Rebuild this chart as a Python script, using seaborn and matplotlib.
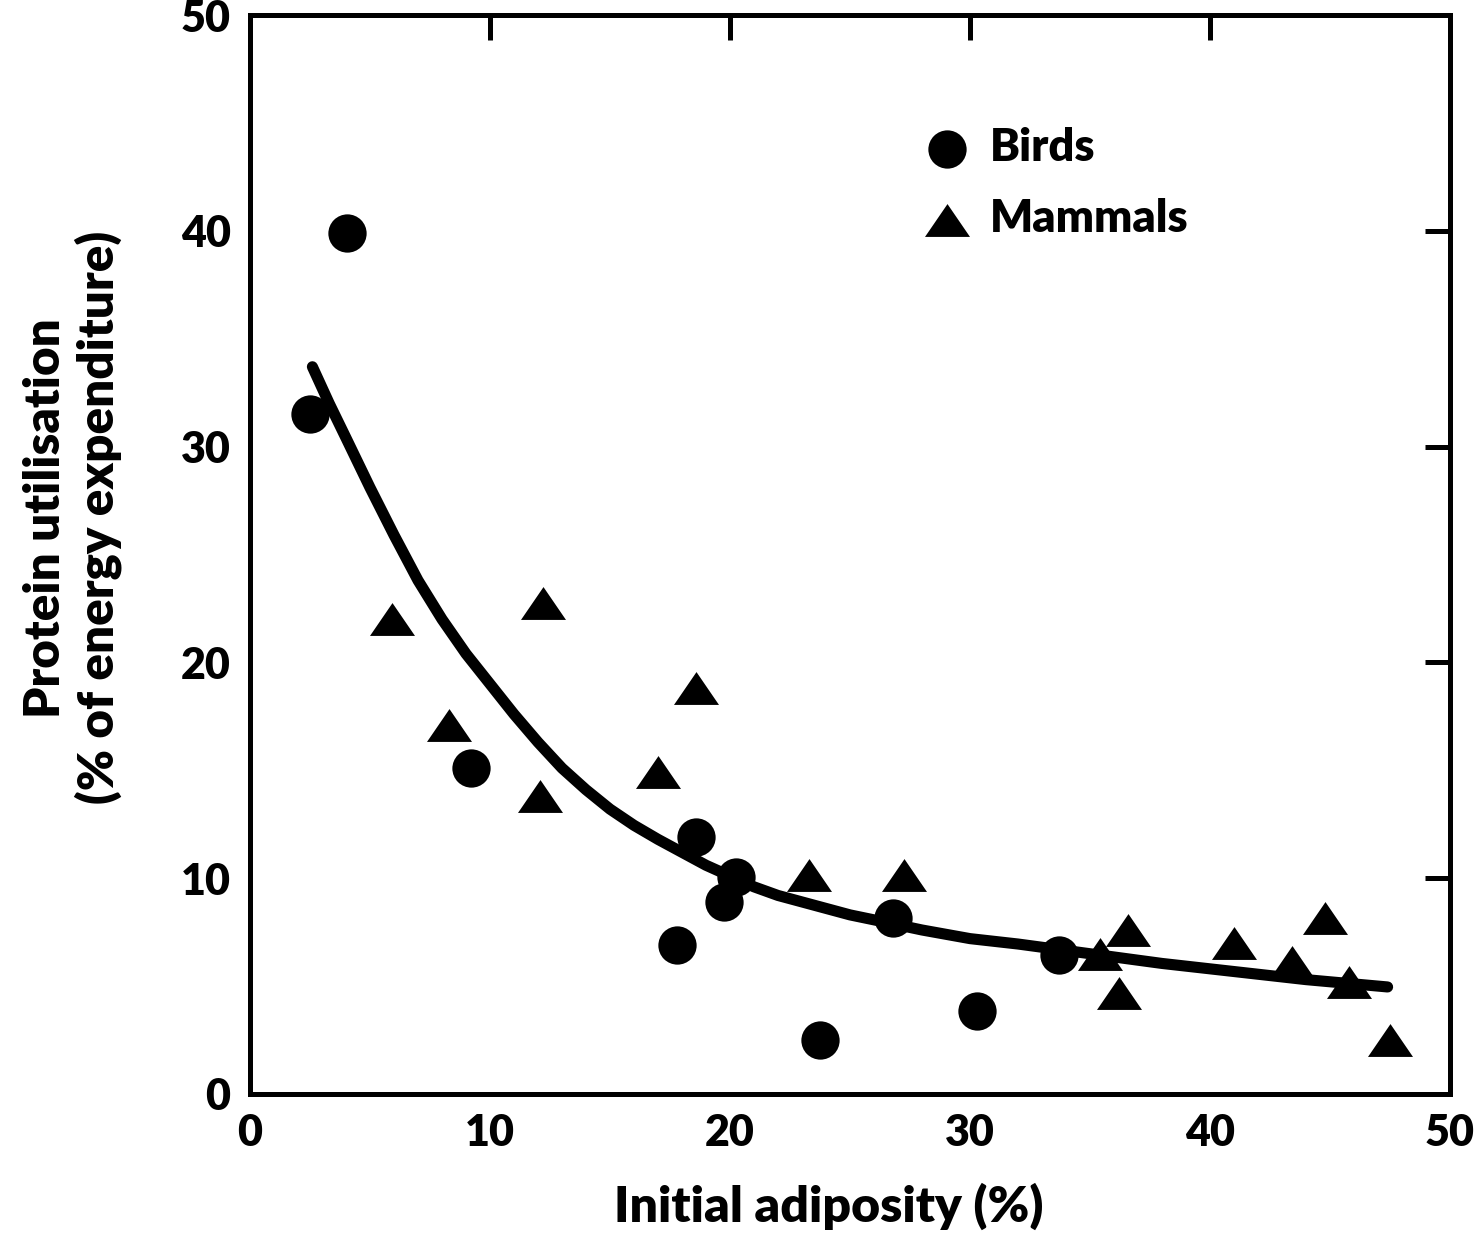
import matplotlib
matplotlib.use("Agg")
import matplotlib.pyplot as plt
import seaborn as sns
import pandas as pd

# ---- data ----
bird_x = [2.5, 4.05, 9.2, 17.8, 18.6, 19.75, 20.25, 23.75, 26.8, 30.3, 33.7]
bird_y = [31.5, 39.9, 15.1, 6.9, 11.9, 8.9, 10.05, 2.5, 8.15, 3.85, 6.45]

mammal_x = [5.9, 8.3, 12.1, 12.2, 17.0, 18.6, 23.3, 27.25, 35.4, 36.2, 36.6,
            41.0, 43.4, 44.8, 45.8, 47.5]
mammal_y = [22.0, 17.1, 13.8, 22.75, 14.9, 18.8, 10.15, 10.15, 6.5, 4.7, 7.6,
            7.0, 6.1, 8.15, 5.2, 2.5]

# fitted curve
fit_x = [2.6, 3.3, 4.0, 5.0, 6.0, 7.0, 8.0, 9.0, 10.0, 11.0, 12.0, 13.0, 14.0,
         15.0, 16.0, 17.0, 18.0, 19.0, 20.0, 21.0, 22.0, 23.0, 24.0, 25.0,
         26.3, 28.0, 30.0, 32.0, 34.0, 36.0, 38.0, 40.0, 42.0, 44.0, 46.0, 47.4]
fit_y = [33.7, 32.0, 30.4, 28.1, 25.9, 23.8, 22.0, 20.4, 19.0, 17.6, 16.3,
         15.1, 14.1, 13.2, 12.45, 11.8, 11.2, 10.6, 10.1, 9.6, 9.2, 8.9, 8.6,
         8.3, 8.0, 7.6, 7.2, 6.95, 6.65, 6.35, 6.05, 5.8, 5.55, 5.3, 5.1, 4.96]

x_ticks = [0, 10, 20, 30, 40, 50]
y_ticks = [0, 10, 20, 30, 40, 50]

birds = pd.DataFrame({"x": bird_x, "y": bird_y})
mammals = pd.DataFrame({"x": mammal_x, "y": mammal_y})
fit = pd.DataFrame({"x": fit_x, "y": fit_y})

# ---- style ----
sns.set_style("white")
plt.rcParams["font.family"] = ["Lato", "DejaVu Sans"]
plt.rcParams["font.weight"] = "heavy"
for k in ["text.color", "axes.labelcolor", "xtick.color", "ytick.color",
          "axes.edgecolor"]:
    plt.rcParams[k] = "black"

W = "heavy"

fig = plt.figure(figsize=(14.8, 12.41), dpi=100)
ax = fig.add_axes([250 / 1480, 1 - 1094 / 1241, 1200 / 1480, 1079 / 1241])

tri = [(-1.0, -0.73), (1.0, -0.73), (0.0, 0.73), (-1.0, -0.73)]

sns.lineplot(data=fit, x="x", y="y", color="black", linewidth=8,
             estimator=None, sort=True, ax=ax, zorder=2)
sns.scatterplot(data=birds, x="x", y="y", marker="o", s=760, color="black",
                edgecolor="black", linewidth=0, ax=ax, label="Birds", zorder=3)
sns.scatterplot(data=mammals, x="x", y="y", marker=tri, s=1050, color="black",
                edgecolor="black", linewidth=0, ax=ax, label="Mammals", zorder=3)

ax.set_xlim(0, 50)
ax.set_ylim(0, 50)
ax.set_xticks(x_ticks)
ax.set_yticks(y_ticks)
ax.set_xticklabels([str(t) for t in x_ticks])
ax.set_yticklabels([str(t) for t in y_ticks])

for s in ax.spines.values():
    s.set_visible(True)
    s.set_linewidth(3.6)
    s.set_color("black")

ax.tick_params(axis="both", which="major", direction="in", length=18, width=3.6,
               color="black", labelcolor="black", labelsize=31, pad=14,
               top=True, right=True, labeltop=False, labelright=False)
for lab in ax.get_xticklabels() + ax.get_yticklabels():
    lab.set_fontweight(W)

ax.set_xlabel("Initial adiposity (%)", fontsize=36, fontweight=W)
ax.set_ylabel("Protein utilisation\n(% of energy expenditure)", fontsize=35.5,
              fontweight=W, linespacing=1.15)
ax.xaxis.set_label_coords(0.482, -0.082)
ax.yaxis.set_label_coords(-0.107, 0.534)

leg = ax.legend(frameon=False, loc="center left",
                bbox_to_anchor=(0.5622, 0.8443), fontsize=32.5,
                handlelength=1.0, handletextpad=0.45, labelspacing=0.65,
                borderpad=0, borderaxespad=0, markerscale=1.0)
for t in leg.get_texts():
    t.set_fontweight(W)
    t.set_color("black")

fig.savefig("out.png", dpi=100, facecolor="white")
